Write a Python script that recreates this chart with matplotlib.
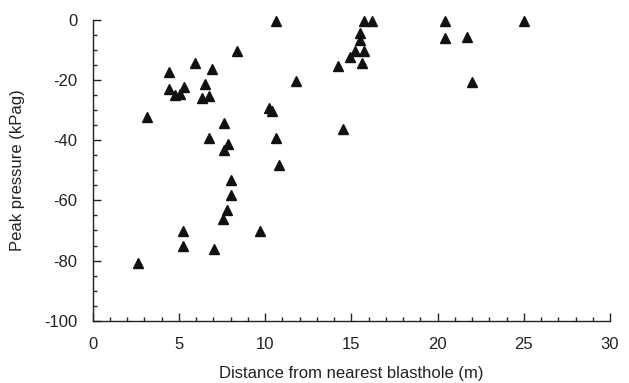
import matplotlib
matplotlib.use("Agg")
import matplotlib.pyplot as plt
from matplotlib.ticker import MultipleLocator

plt.rcParams['font.family'] = ['Liberation Sans', 'DejaVu Sans']
plt.rcParams['axes.unicode_minus'] = False

distance = [8.35, 5.93, 4.43, 6.94, 6.53, 4.45, 5.30, 4.80, 5.05, 6.32, 6.73,
            3.13, 7.63, 6.76, 7.83, 7.63, 10.24, 10.40, 10.63, 10.78,
            8.04, 8.04, 7.79, 7.54, 5.24, 5.24, 7.02, 9.72, 2.63,
            10.65, 15.74, 16.22, 15.52, 15.52, 15.23, 15.74, 14.92, 15.64,
            14.23, 11.79, 14.52, 20.43, 20.43, 21.73, 22.02, 25.04]
pressure = [-10.3, -14.2, -17.2, -16.3, -21.3, -23.1, -22.4, -25.0, -24.6, -26.0, -25.3,
            -32.2, -34.2, -39.2, -41.2, -43.3, -29.4, -30.2, -39.3, -48.1,
            -53.2, -58.2, -63.3, -66.3, -70.1, -75.2, -76.2, -70.1, -80.8,
            -0.3, -0.3, -0.3, -4.4, -6.7, -10.3, -10.3, -12.4, -14.2,
            -15.3, -20.3, -36.4, -0.3, -5.9, -5.5, -20.5, -0.3]

x_label = "Distance from nearest blasthole (m)"
y_label = "Peak pressure (kPag)"

fig = plt.figure(figsize=(6.29, 3.83), dpi=100)
ax = fig.add_axes([0.1474, 0.1627, 0.8224, 0.7851])

ax.plot(distance, pressure, linestyle='none', marker='^', markersize=7.5,
        color='#111111', clip_on=False)

ax.set_xlim(0, 30)
ax.set_ylim(-100, 0)
ax.xaxis.set_major_locator(MultipleLocator(5))
ax.xaxis.set_minor_locator(MultipleLocator(1))
ax.yaxis.set_major_locator(MultipleLocator(20))
ax.yaxis.set_minor_locator(MultipleLocator(5))

for s in ['top', 'right']:
    ax.spines[s].set_visible(False)
for s in ['left', 'bottom']:
    ax.spines[s].set_linewidth(1.0)
    ax.spines[s].set_color('#222222')

ax.tick_params(axis='both', which='major', direction='in', length=6, width=1,
               labelsize=12, colors='#222222')
ax.tick_params(axis='both', which='minor', direction='in', length=3, width=1,
               colors='#222222')
ax.tick_params(axis='x', which='major', pad=12)
ax.tick_params(axis='y', which='major', pad=11)

ax.set_xlabel(x_label, fontsize=12, labelpad=10, color='#222222')
ax.set_ylabel(y_label, fontsize=12, labelpad=14, color='#222222')

fig.savefig("out.png", dpi=100)
